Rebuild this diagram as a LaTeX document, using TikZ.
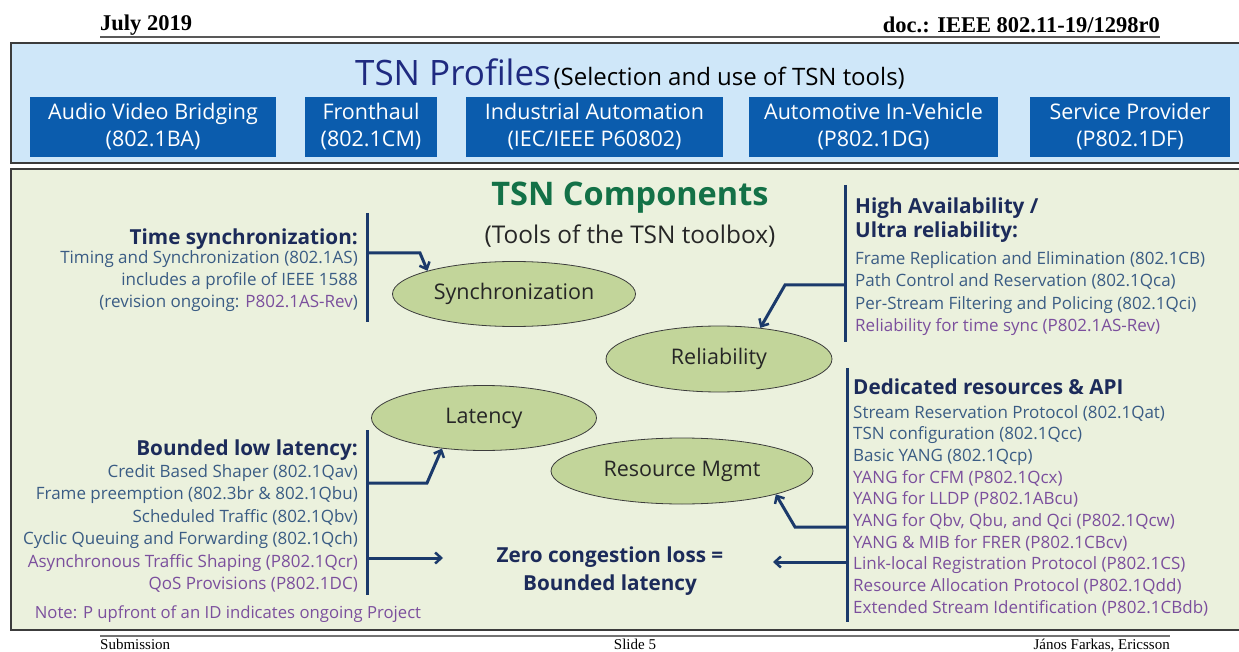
\documentclass[tikz,border=0pt]{standalone}
\usepackage{fontspec}
\setmainfont{Open Sans}
\newfontfamily\timesf{Liberation Serif}
\usetikzlibrary{shapes.geometric,arrows.meta}
\definecolor{profbg}{HTML}{CFE7F9}
\definecolor{compbg}{HTML}{EBF1DD}
\definecolor{boxborder}{HTML}{3C3C3C}
\definecolor{profbox}{HTML}{0B5CAD}
\definecolor{navyt}{HTML}{1F2A80}
\definecolor{greent}{HTML}{137147}
\definecolor{ellfill}{HTML}{C2D59A}
\definecolor{barc}{HTML}{1B3A6B}
\definecolor{headc}{HTML}{1C2B5A}
\definecolor{bodyc}{HTML}{3A5C84}
\definecolor{purp}{HTML}{7B4F9D}
\tikzset{
  hdr/.style={inner sep=0, font=\timesf\fontsize{22.5}{22.5}\selectfont\bfseries},
  ftr/.style={inner sep=0, font=\timesf\fontsize{15}{15}\selectfont},
  prof/.style={fill=profbox, text=white, align=center, inner sep=0,
    minimum height=60, font=\fontsize{21.5}{27}\selectfont},
  ell/.style={ellipse, draw=boxborder, line width=0.8, fill=ellfill, inner sep=0,
    font=\fontsize{21.5}{21.5}\selectfont, text=black!85},
  head/.style={inner sep=0, text=headc, font=\fontsize{20.7}{20.7}\selectfont\bfseries},
  body/.style={inner sep=0, text=bodyc, font=\fontsize{17}{17}\selectfont},
  pbody/.style={body, text=purp},
  bar/.style={draw=barc, line width=3},
  arr/.style={draw=barc, line width=3, -{Straight Barb[length=6pt,width=11pt,line width=2.5pt]}},
}
\begin{document}
\begin{tikzpicture}[x=1pt,y=-1pt]
\useasboundingbox (0,0) rectangle (1239,652);
\fill[white] (0,0) rectangle (1239,652);
% header
\node[hdr, anchor=base west] (july) at (100,31) {July 2019};
\node[hdr, anchor=base east] (doc) at (1160,33) {doc.: IEEE 802.11-19/1298r0};
\draw[black!65, line width=2] (100,37.5) -- (1160,37.5);
% profiles box
\draw[line width=2.5, draw=boxborder, fill=profbg] (11,43) rectangle (1250,163);
\node[inner sep=0, anchor=base] (proft) at (630,86) {{\fontsize{35}{35}\selectfont\color{navyt}TSN Profiles} {\fontsize{24}{24}\selectfont (Selection and use of TSN tools)}};
\node[prof, minimum width=246] (p1) at (153,127) {Audio Video Bridging\\(802.1BA)};
\node[prof, minimum width=132] (p2) at (371,127) {Fronthaul\\(802.1CM)};
\node[prof, minimum width=257] (p3) at (594.5,127) {Industrial Automation\\(IEC/IEEE P60802)};
\node[prof, minimum width=249] (p4) at (873.5,127) {Automotive In-Vehicle\\(P802.1DG)};
\node[prof, minimum width=200] (p5) at (1130,127) {Service Provider\\(P802.1DF)};
% components box
\draw[line width=2.5, draw=boxborder, fill=compbg] (11,169) rectangle (1250,630);
\node[inner sep=0, text=greent, font=\fontsize{32.5}{32.5}\selectfont\bfseries] (compt) at (630,198) {TSN Components};
\node[inner sep=0, text=black!85, font=\fontsize{24.4}{24.4}\selectfont] (comps) at (630,236) {(Tools of the TSN toolbox)};
% ellipses
\node[ell, minimum width=243, minimum height=65] (sync) at (514,294) {Synchronization};
\node[ell, minimum width=226, minimum height=66] (rel) at (719,359) {Reliability};
\node[ell, minimum width=225, minimum height=65] (lat) at (484,418) {Latency};
\node[ell, minimum width=262, minimum height=66] (res) at (682,471) {Resource Mgmt};
\node[inner sep=0, text=headc, align=center, font=\fontsize{20.7}{28}\selectfont\bfseries] (zcl) at (610,571) {Zero congestion loss =\\Bounded latency};
% time synchronization
\node[head, anchor=base east] (ts0) at (358,245) {Time synchronization:};
\node[body, anchor=base east] (ts1) at (358,264) {Timing and Synchronization (802.1AS)};
\node[body, anchor=base east] (ts2) at (358,286) {includes a profile of IEEE 1588};
\node[body, anchor=base east] (ts3) at (358,308) {(revision ongoing: \textcolor{purp}{P802.1AS-Rev})};
\coordinate (tsA) at (367,213); \coordinate (tsB) at (367,322);
\draw[bar] (tsA) -- (tsB);
\coordinate (tsJ) at (367,253);
\draw[arr] (tsJ) -- (420,253) -- (sync.165);
% bounded low latency
\node[head, anchor=base east] (bl0) at (358,455) {Bounded low latency:};
\node[body, anchor=base east] (bl1) at (358,477) {Credit Based Shaper (802.1Qav)};
\node[body, anchor=base east] (bl2) at (358,499.5) {Frame preemption (802.3br \& 802.1Qbu)};
\node[body, anchor=base east] (bl3) at (358,522) {Scheduled Traffic (802.1Qbv)};
\node[body, anchor=base east] (bl4) at (358,544.5) {Cyclic Queuing and Forwarding (802.1Qch)};
\node[pbody, anchor=base east] (bl5) at (358,567) {Asynchronous Traffic Shaping (P802.1Qcr)};
\node[pbody, anchor=base east] (bl6) at (358,589.5) {QoS Provisions (P802.1DC)};
\node[pbody, anchor=base, font=\fontsize{16.7}{16.7}\selectfont] (note) at (228,618) {Note: P upfront of an ID indicates ongoing Project};
\coordinate (blA) at (367,430); \coordinate (blB) at (367,595);
\draw[bar] (blA) -- (blB);
\coordinate (blJ) at (367,483);
\draw[arr] (blJ) -- (427,483) -- (lat.216);
\coordinate (blK) at (367,558); \coordinate (zclL) at (443,558);
\draw[arr] (blK) -- (zclL);
% high availability
\node[head, anchor=base west] (ha0) at (855,214) {High Availability /};
\node[head, anchor=base west] (ha1) at (855,238) {Ultra reliability:};
\node[body, anchor=base west] (ha2) at (855,265) {Frame Replication and Elimination (802.1CB)};
\node[body, anchor=base west] (ha3) at (855,287) {Path Control and Reservation (802.1Qca)};
\node[body, anchor=base west] (ha4) at (855,309) {Per-Stream Filtering and Policing (802.1Qci)};
\node[pbody, anchor=base west] (ha5) at (855,331) {Reliability for time sync (P802.1AS-Rev)};
\coordinate (haA) at (845,185); \coordinate (haB) at (845,342);
\draw[bar] (haA) -- (haB);
\coordinate (haJ) at (845,285);
\draw[arr] (haJ) -- (785,285) -- (rel.37);
% dedicated resources
\node[head, anchor=base west] (dr0) at (853,394) {Dedicated resources \& API};
\node[body, anchor=base west] (dr1) at (853,418) {Stream Reservation Protocol (802.1Qat)};
\node[body, anchor=base west] (dr2) at (853,439.7) {TSN configuration (802.1Qcc)};
\node[body, anchor=base west] (dr3) at (853,461.4) {Basic YANG (802.1Qcp)};
\node[pbody, anchor=base west] (dr4) at (853,483.1) {YANG for CFM (P802.1Qcx)};
\node[pbody, anchor=base west] (dr5) at (853,504.8) {YANG for LLDP (P802.1ABcu)};
\node[pbody, anchor=base west] (dr6) at (853,526.5) {YANG for Qbv, Qbu, and Qci (P802.1Qcw)};
\node[pbody, anchor=base west] (dr7) at (853,548.2) {YANG \& MIB for FRER (P802.1CBcv)};
\node[pbody, anchor=base west] (dr8) at (853,569.9) {Link-local Registration Protocol (P802.1CS)};
\node[pbody, anchor=base west] (dr9) at (853,591.6) {Resource Allocation Protocol (P802.1Qdd)};
\node[pbody, anchor=base west] (dr10) at (853,613.3) {Extended Stream Identification (P802.1CBdb)};
\coordinate (drA) at (847,368); \coordinate (drB) at (847,622);
\draw[bar] (drA) -- (drB);
\coordinate (drJ) at (847,527);
\draw[arr] (drJ) -- (795,527) -- (res.346);
\coordinate (drK) at (847,562); \coordinate (zclR) at (773,562);
\draw[arr] (drK) -- (zclR);
% footer
\draw[black!55, line width=1.5] (100,636) -- (1170,636);
\node[ftr, anchor=base west] (sub) at (100,649) {Submission};
\node[ftr, anchor=base] (slide) at (635,649) {Slide 5};
\node[ftr, anchor=base east] (auth) at (1170,649) {János Farkas, Ericsson};
\end{tikzpicture}
\end{document}
